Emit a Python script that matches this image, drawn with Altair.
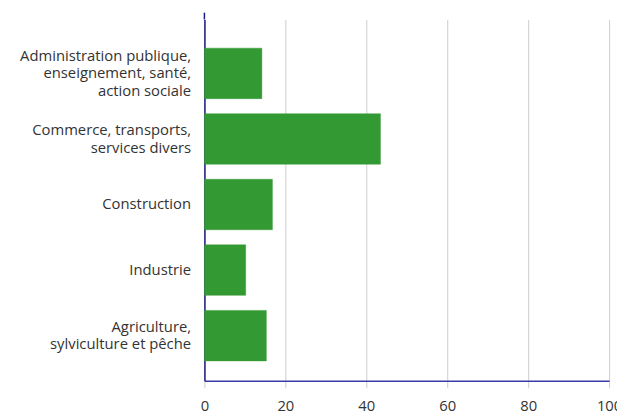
import altair as alt
import pandas as pd

categories = [
    "Administration publique,|enseignement, santé,|action sociale",
    "Commerce, transports,|services divers",
    "Construction",
    "Industrie",
    "Agriculture,|sylviculture et pêche",
]
values = [14.2, 43.5, 16.8, 10.2, 15.3]
x_ticks = [0, 20, 40, 60, 80, 100]

df = pd.DataFrame({"secteur": categories, "valeur": values})
axis_df = pd.DataFrame({"k": [0]})

LH = 17.5

bars = (
    alt.Chart(df)
    .mark_bar(color="#339933", stroke="#339933", strokeOpacity=0.45, strokeWidth=1)
    .encode(
        y=alt.Y(
            "secteur:N",
            sort=categories,
            title=None,
            scale=alt.Scale(paddingInner=0.23, paddingOuter=0.37, align=0.59),
            axis=alt.Axis(
                labelExpr="split(datum.label, '|')",
                labelFontSize=15,
                labelFont="Open Sans",
                labelColor="#333333",
                labelLineHeight=LH,
                labelPadding=14,
                labelOffset={
                    "condition": [
                        {"test": "length(split(datum.value, '|')) == 3", "value": -LH},
                        {"test": "length(split(datum.value, '|')) == 2", "value": -LH / 2},
                    ],
                    "value": 0,
                },
                ticks=False,
                domainColor="#1a1a85",
                domainWidth=1.5,
                grid=False,
                labelLimit=400,
            ),
        ),
        x=alt.X(
            "valeur:Q",
            title=None,
            scale=alt.Scale(domain=[0, 100], nice=False),
            axis=alt.Axis(
                values=x_ticks,
                labelFontSize=15,
                labelFont="Open Sans",
                labelColor="#333333",
                labelPadding=11,
                tickSize=7,
                tickColor="#cccccc",
                gridColor="#cccccc",
                gridWidth=1,
                domainColor="#3b3bab",
                domainWidth=1.5,
                labelFlush=False,
            ),
        ),
    )
)

axis_ext = (
    alt.Chart(axis_df)
    .mark_rule(color="#1a1a85", strokeWidth=1.5)
    .encode(x=alt.value(0), y=alt.value(-7), y2=alt.value(0))
)

chart = (
    alt.layer(bars, axis_ext)
    .properties(
        width=410,
        height=366,
        autosize=alt.AutoSizeParams(type="none"),
        padding={"left": 199, "top": 9, "right": 8, "bottom": 34},
    )
    .configure_view(stroke=None)
)

chart.save("out.html", embed_options={"renderer": "svg", "actions": False})
